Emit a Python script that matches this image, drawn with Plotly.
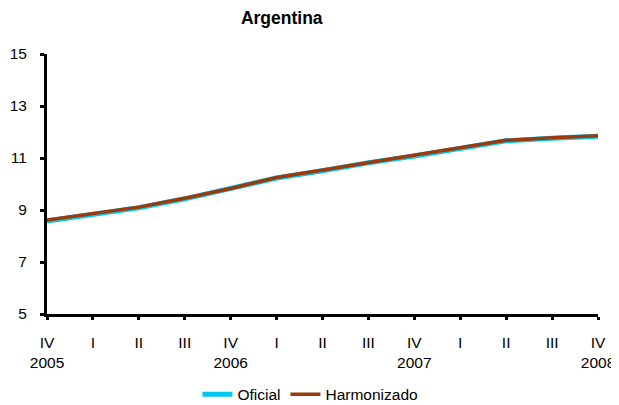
"""Argentina: official vs harmonised series, quarterly."""

import plotly.graph_objects as go

# ===== Data =====
quarters = ["IV<br>2005", "I", "II", "III", "IV<br>2006", "I", "II", "III",
            "IV<br>2007", "I", "II", "III", "IV<br>2008"]
oficial = [8.58, 8.84, 9.09, 9.43, 9.81, 10.23, 10.51, 10.82,
           11.08, 11.37, 11.66, 11.76, 11.84]
harmonizado = [8.61, 8.86, 9.11, 9.45, 9.83, 10.25, 10.53, 10.84,
               11.10, 11.39, 11.68, 11.78, 11.86]

FONT = "Liberation Sans, Arial, sans-serif"
x_pos = list(range(len(quarters)))

fig = go.Figure()
fig.add_trace(go.Scatter(
    x=x_pos, y=oficial, name="Oficial", mode="lines",
    line={"color": "#00C8F0", "width": 5},
))
fig.add_trace(go.Scatter(
    x=x_pos, y=harmonizado, name="Harmonizado", mode="lines",
    line={"color": "#9C3A0C", "width": 3.5},
))

# page body has an 8px margin, so the figure is 8px smaller and shifted
fig.update_layout(
    width=611, height=397,
    template="plotly_white",
    paper_bgcolor="white", plot_bgcolor="white",
    font={"family": FONT, "size": 15.5, "color": "black"},
    title={"text": "<b>Argentina</b>", "x": 0.448, "xanchor": "center",
           "y": 1 - 10 / 397, "yanchor": "middle", "font": {"size": 17.5}},
    margin={"t": 46, "r": 21, "b": 91, "l": 39, "autoexpand": False},
    showlegend=True,
    legend={"orientation": "h", "x": 0.478, "xanchor": "center",
            "y": -0.245, "yanchor": "top", "font": {"size": 15.5}},
)

fig.update_xaxes(
    range=[0, 12], tickvals=x_pos, ticktext=quarters,
    showgrid=False, zeroline=False, automargin=False,
    showline=True, linecolor="black", linewidth=3,
    ticks="outside", ticklen=3, tickwidth=3, tickcolor="black",
    tickangle=0, ticklabelstandoff=9,
)
fig.update_yaxes(
    range=[5, 15], dtick=2, tick0=5,
    showgrid=False, zeroline=False, automargin=False,
    showline=True, linecolor="black", linewidth=3,
    ticks="outside", ticklen=4, tickwidth=3, tickcolor="black",
    ticklabelstandoff=10,
)

fig.write_html("out.html")
